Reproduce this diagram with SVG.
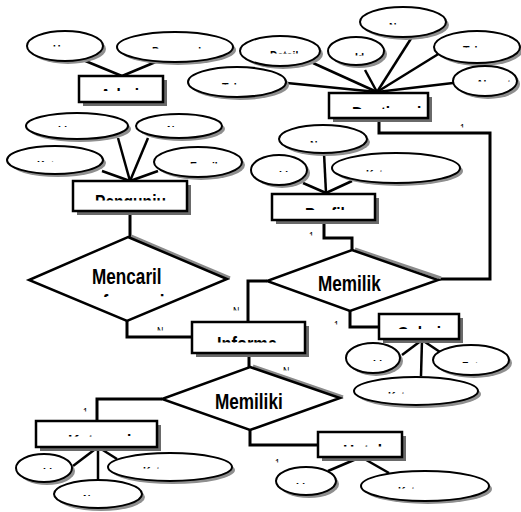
<svg xmlns="http://www.w3.org/2000/svg" width="521" height="512" viewBox="0 0 521 512">
<style>
.e{fill:#fff;stroke:#000;stroke-width:2}
.es{fill:#8f8f8f}
.r{fill:#fff;stroke:#000;stroke-width:2.5}
.rs{fill:#6a6a6a}
.d{fill:#fff;stroke:#000;stroke-width:2.5;stroke-linejoin:miter}
.ds{fill:none;stroke:#8a8a8a;stroke-width:3}
.c{fill:none;stroke:#000;stroke-width:3;stroke-linejoin:miter}
.a{fill:none;stroke:#000;stroke-width:2.5}
text{font-family:"Liberation Sans",Arial,sans-serif;font-weight:bold;fill:#000}
.s{font-size:13px}
.m{font-size:20px}
.l{font-size:22px}
.n{font-size:11px;font-weight:normal}
.k{clip-path:url(#vis)}
</style>
<defs>
<clipPath id="vis">
<rect x="27" y="40" width="76" height="6.5"/>
<rect x="117" y="42" width="116" height="6.5"/>
<rect x="360" y="18" width="87" height="6.5"/>
<rect x="241" y="46" width="79" height="7.5"/>
<rect x="328" y="48" width="56" height="7.5"/>
<rect x="433" y="41" width="88" height="6.5"/>
<rect x="453" y="75" width="68" height="6.5"/>
<rect x="188" y="78" width="99" height="6.5"/>
<rect x="26" y="121" width="102" height="6"/>
<rect x="136" y="121" width="87" height="6"/>
<rect x="7" y="156" width="96" height="6"/>
<rect x="154" y="157" width="88" height="6.5"/>
<rect x="279" y="136" width="88" height="6.5"/>
<rect x="251" y="166" width="56" height="6"/>
<rect x="332" y="165" width="128" height="6.5"/>
<rect x="346" y="355" width="55" height="6"/>
<rect x="433" y="357" width="76" height="6"/>
<rect x="354" y="387" width="125" height="6.5"/>
<rect x="16" y="463" width="56" height="6"/>
<rect x="108" y="462" width="124" height="6.5"/>
<rect x="54" y="490" width="88" height="6"/>
<rect x="276" y="478" width="60" height="6"/>
<rect x="361" y="482" width="129" height="6.5"/>
<rect x="79" y="85" width="84" height="6"/>
<rect x="329" y="103" width="99" height="6"/>
<rect x="73" y="190" width="114" height="10.5"/>
<rect x="272" y="204" width="103" height="6"/>
<rect x="379" y="323" width="80" height="6"/>
<rect x="192" y="333" width="113" height="9.5"/>
<rect x="36" y="431" width="121" height="5.5"/>
<rect x="318" y="441" width="84" height="5.5"/>
<rect x="29" y="255" width="198" height="42"/>
<rect x="458" y="120" width="12" height="7.5"/>
<rect x="307" y="228" width="12" height="7.5"/>
<rect x="155" y="323" width="12" height="7.5"/>
<rect x="231" y="303" width="12" height="7.5"/>
<rect x="332" y="317" width="12" height="7.5"/>
<rect x="281" y="363" width="12" height="7.5"/>
<rect x="81" y="404" width="12" height="7.5"/>
<rect x="273" y="455" width="12" height="7.5"/>
</clipPath>
</defs>

<g id="connectors">
<polyline class="c" points="379,118 379,133 490,133 490,279 438,279"/>
<polyline class="c" points="324,220 324,238 352,238 352,250"/>
<polyline class="c" points="267,281 248,281 248,322"/>
<polyline class="c" points="350,311 350,327 379,327"/>
<polyline class="c" points="130,211 130,237"/>
<polyline class="c" points="127,321 127,337 192,337"/>
<polyline class="c" points="249,353 249,367"/>
<polyline class="c" points="162,399 97,399 97,421"/>
<polyline class="c" points="250,430 250,445 318,445"/>
<line class="a" x1="83" y1="60" x2="122" y2="76"/>
<line class="a" x1="158" y1="61" x2="122" y2="76"/>
<line class="a" x1="287" y1="83" x2="377" y2="92"/>
<line class="a" x1="313" y1="63" x2="377" y2="92"/>
<line class="a" x1="365" y1="70" x2="377" y2="92"/>
<line class="a" x1="412" y1="37" x2="377" y2="92"/>
<line class="a" x1="440" y1="53" x2="377" y2="92"/>
<line class="a" x1="453" y1="83" x2="377" y2="92"/>
<line class="a" x1="118" y1="138" x2="130" y2="181"/>
<line class="a" x1="148" y1="138" x2="130" y2="181"/>
<line class="a" x1="102" y1="171" x2="130" y2="181"/>
<line class="a" x1="158" y1="171" x2="130" y2="181"/>
<line class="a" x1="303" y1="183" x2="326" y2="193"/>
<line class="a" x1="324" y1="153" x2="326" y2="193"/>
<line class="a" x1="352" y1="181" x2="326" y2="193"/>
<line class="a" x1="402" y1="355" x2="422" y2="340"/>
<line class="a" x1="440" y1="352" x2="422" y2="340"/>
<line class="a" x1="421" y1="376" x2="422" y2="340"/>
<line class="a" x1="73" y1="466" x2="98" y2="447"/>
<line class="a" x1="98" y1="479" x2="98" y2="447"/>
<line class="a" x1="117" y1="459" x2="98" y2="447"/>
<line class="a" x1="328" y1="471" x2="361" y2="457"/>
<line class="a" x1="389" y1="473" x2="361" y2="457"/>
<text class="n k" x="460" y="131.9" textLength="4.9" lengthAdjust="spacingAndGlyphs">1</text>
<text class="n k" x="309" y="239.9" textLength="4.9" lengthAdjust="spacingAndGlyphs">1</text>
<text class="n k" x="157" y="334.9" textLength="6.4" lengthAdjust="spacingAndGlyphs">N</text>
<text class="n k" x="233" y="314.9" textLength="6.4" lengthAdjust="spacingAndGlyphs">N</text>
<text class="n k" x="334" y="328.9" textLength="4.9" lengthAdjust="spacingAndGlyphs">1</text>
<text class="n k" x="283" y="374.9" textLength="6.4" lengthAdjust="spacingAndGlyphs">N</text>
<text class="n k" x="83" y="415.9" textLength="4.9" lengthAdjust="spacingAndGlyphs">1</text>
<text class="n k" x="275" y="466.9" textLength="4.9" lengthAdjust="spacingAndGlyphs">1</text>
</g>

<g id="admin">
<rect class="rs" x="83" y="80" width="84" height="26"/>
<rect class="r" x="79" y="76" width="84" height="26"/>
<text class="m k" x="100" y="103.3" textLength="48.5" lengthAdjust="spacingAndGlyphs">Admin</text>
</g>
<g id="admin-username">
<ellipse class="es" cx="68" cy="49" rx="38" ry="15"/>
<ellipse class="e" cx="65" cy="46" rx="38" ry="15"/>
<text class="s k" x="53" y="54.3" textLength="50.3" lengthAdjust="spacingAndGlyphs">Username</text>
</g>
<g id="admin-password">
<ellipse class="es" cx="178" cy="50" rx="58" ry="15"/>
<ellipse class="e" cx="175" cy="47" rx="58" ry="15"/>
<text class="s k" x="152" y="56.3" textLength="49.1" lengthAdjust="spacingAndGlyphs">Password</text>
</g>

<g id="destinasi">
<rect class="rs" x="333" y="97" width="99" height="25"/>
<rect class="r" x="329" y="93" width="99" height="25"/>
<text class="m k" x="352" y="121.3" textLength="69.4" lengthAdjust="spacingAndGlyphs">Destinasi</text>
</g>
<g id="destinasi-nama">
<ellipse class="es" cx="406" cy="25" rx="43" ry="15"/>
<ellipse class="e" cx="403" cy="22" rx="43" ry="15"/>
<text class="s k" x="389" y="32.3" textLength="28.3" lengthAdjust="spacingAndGlyphs">Nama</text>
</g>
<g id="destinasi-detail">
<ellipse class="es" cx="283" cy="54" rx="40" ry="15"/>
<ellipse class="e" cx="280" cy="51" rx="40" ry="15"/>
<text class="s k" x="270" y="60.3" textLength="28.3" lengthAdjust="spacingAndGlyphs">Detail</text>
</g>
<g id="destinasi-id">
<ellipse class="es" cx="359" cy="54" rx="28" ry="14"/>
<ellipse class="e" cx="356" cy="51" rx="28" ry="14"/>
<text class="s k" x="355" y="62.3" textLength="9.2" lengthAdjust="spacingAndGlyphs">Id</text>
</g>
<g id="destinasi-telepon">
<ellipse class="es" cx="480" cy="50" rx="43" ry="16"/>
<ellipse class="e" cx="477" cy="47" rx="43" ry="16"/>
<text class="s k" x="463" y="55.3" textLength="39.9" lengthAdjust="spacingAndGlyphs">Telepon</text>
</g>
<g id="destinasi-alamat">
<ellipse class="es" cx="488" cy="84" rx="32" ry="15"/>
<ellipse class="e" cx="485" cy="81" rx="32" ry="15"/>
<text class="s k" x="476" y="89.3" textLength="34.7" lengthAdjust="spacingAndGlyphs">Alamat</text>
</g>
<g id="destinasi-tahun">
<ellipse class="es" cx="240" cy="85" rx="49" ry="15"/>
<ellipse class="e" cx="237" cy="82" rx="49" ry="15"/>
<text class="s k" x="222" y="92.3" textLength="31.2" lengthAdjust="spacingAndGlyphs">Tahun</text>
</g>

<g id="pengunjung">
<rect class="rs" x="77" y="185" width="114" height="30"/>
<rect class="r" x="73" y="181" width="114" height="30"/>
<text class="m k" x="95" y="209.3" textLength="71" lengthAdjust="spacingAndGlyphs">Pengunju</text>
</g>
<g id="pengunjung-id">
<ellipse class="es" cx="80" cy="129" rx="51" ry="13"/>
<ellipse class="e" cx="77" cy="126" rx="51" ry="13"/>
<text class="s k" x="58" y="135.3" textLength="9.2" lengthAdjust="spacingAndGlyphs">Id</text>
</g>
<g id="pengunjung-nama">
<ellipse class="es" cx="182" cy="129" rx="43" ry="12"/>
<ellipse class="e" cx="179" cy="126" rx="43" ry="12"/>
<text class="s k" x="167" y="135.3" textLength="28.3" lengthAdjust="spacingAndGlyphs">Nama</text>
</g>
<g id="pengunjung-kota">
<ellipse class="es" cx="58" cy="163" rx="48" ry="14"/>
<ellipse class="e" cx="55" cy="160" rx="48" ry="14"/>
<text class="s k" x="37" y="170.3" textLength="23.1" lengthAdjust="spacingAndGlyphs">Kota</text>
</g>
<g id="pengunjung-email">
<ellipse class="es" cx="201" cy="165" rx="44" ry="15"/>
<ellipse class="e" cx="198" cy="162" rx="44" ry="15"/>
<text class="s k" x="190" y="171.3" textLength="27.7" lengthAdjust="spacingAndGlyphs">Email</text>
</g>

<g id="profil">
<rect class="rs" x="276" y="198" width="103" height="26"/>
<rect class="r" x="272" y="194" width="103" height="26"/>
<text class="m k" x="305" y="222.3" textLength="39.9" lengthAdjust="spacingAndGlyphs">Profil</text>
</g>
<g id="profil-nama">
<ellipse class="es" cx="326" cy="142" rx="44" ry="14"/>
<ellipse class="e" cx="323" cy="139" rx="44" ry="14"/>
<text class="s k" x="310" y="150.3" textLength="28.3" lengthAdjust="spacingAndGlyphs">Nama</text>
</g>
<g id="profil-id">
<ellipse class="es" cx="282" cy="173" rx="28" ry="15"/>
<ellipse class="e" cx="279" cy="170" rx="28" ry="15"/>
<text class="s k" x="279" y="180.3" textLength="9.2" lengthAdjust="spacingAndGlyphs">Id</text>
</g>
<g id="profil-keterangan">
<ellipse class="es" cx="399" cy="171" rx="64" ry="15"/>
<ellipse class="e" cx="396" cy="168" rx="64" ry="15"/>
<text class="s k" x="366" y="179.3" textLength="57.2" lengthAdjust="spacingAndGlyphs">Keterangan</text>
</g>

<g id="mencari-informasi">
<polyline class="ds" points="131,236 230,278"/>
<polygon class="d" points="128,237 227,279 127,321 29,280"/>
<text class="l k" x="92" y="284" textLength="69.6" lengthAdjust="spacingAndGlyphs">Mencaril</text>
<text class="l k" x="92" y="310" textLength="72.5" lengthAdjust="spacingAndGlyphs">nformasi</text>
</g>

<g id="memiliki-1">
<polyline class="ds" points="355,249 441,278"/>
<polygon class="d" points="352,250 438,280 350,311 267,281"/>
<text class="l" x="318" y="291" textLength="62.9" lengthAdjust="spacingAndGlyphs">Memilik</text>
</g>

<g id="galeri">
<rect class="rs" x="383" y="318" width="80" height="25"/>
<rect class="r" x="379" y="314" width="80" height="25"/>
<text class="m k" x="397" y="341.3" textLength="44" lengthAdjust="spacingAndGlyphs">Galeri</text>
</g>
<g id="galeri-id">
<ellipse class="es" cx="376" cy="361" rx="27" ry="15"/>
<ellipse class="e" cx="373" cy="358" rx="27" ry="15"/>
<text class="s k" x="373" y="369.3" textLength="9.2" lengthAdjust="spacingAndGlyphs">Id</text>
</g>
<g id="galeri-foto">
<ellipse class="es" cx="474" cy="363" rx="38" ry="15"/>
<ellipse class="e" cx="471" cy="360" rx="38" ry="15"/>
<text class="s k" x="462" y="371.3" textLength="22.5" lengthAdjust="spacingAndGlyphs">Foto</text>
</g>
<g id="galeri-keterangan">
<ellipse class="es" cx="419" cy="394" rx="62" ry="14"/>
<ellipse class="e" cx="416" cy="391" rx="62" ry="14"/>
<text class="s k" x="388" y="401.3" textLength="57.2" lengthAdjust="spacingAndGlyphs">Keterangan</text>
</g>

<g id="informasi">
<rect class="rs" x="196" y="326" width="113" height="31"/>
<rect class="r" x="192" y="322" width="113" height="31"/>
<text class="m k" x="217" y="351.3" textLength="60" lengthAdjust="spacingAndGlyphs">Informa</text>
</g>

<g id="memiliki-2">
<polyline class="ds" points="253,366 343,397"/>
<polygon class="d" points="250,367 340,398 250,430 162,399"/>
<text class="l" x="215" y="409" textLength="67.7" lengthAdjust="spacingAndGlyphs">Memiliki</text>
</g>

<g id="kategori">
<rect class="rs" x="40" y="425" width="121" height="26"/>
<rect class="r" x="36" y="421" width="121" height="26"/>
<text class="m k" x="68" y="449.3" textLength="63.3" lengthAdjust="spacingAndGlyphs">Kategori</text>
</g>
<g id="kategori-id">
<ellipse class="es" cx="47" cy="471" rx="28" ry="14"/>
<ellipse class="e" cx="44" cy="468" rx="28" ry="14"/>
<text class="s k" x="43" y="477.3" textLength="9.2" lengthAdjust="spacingAndGlyphs">Id</text>
</g>
<g id="kategori-keterangan">
<ellipse class="es" cx="173" cy="470" rx="62" ry="14"/>
<ellipse class="e" cx="170" cy="467" rx="62" ry="14"/>
<text class="s k" x="143" y="476.3" textLength="57.2" lengthAdjust="spacingAndGlyphs">Keterangan</text>
</g>
<g id="kategori-nama">
<ellipse class="es" cx="101" cy="497" rx="44" ry="14"/>
<ellipse class="e" cx="98" cy="494" rx="44" ry="14"/>
<text class="s k" x="83" y="504.3" textLength="28.3" lengthAdjust="spacingAndGlyphs">Nama</text>
</g>

<g id="hotel">
<rect class="rs" x="322" y="436" width="84" height="25"/>
<rect class="r" x="318" y="432" width="84" height="25"/>
<text class="m k" x="343" y="459.3" textLength="39" lengthAdjust="spacingAndGlyphs">Hotel</text>
</g>
<g id="hotel-id">
<ellipse class="es" cx="309" cy="484" rx="30" ry="14"/>
<ellipse class="e" cx="306" cy="481" rx="30" ry="14"/>
<text class="s k" x="296" y="492.3" textLength="9.2" lengthAdjust="spacingAndGlyphs">Id</text>
</g>
<g id="hotel-keterangan">
<ellipse class="es" cx="428" cy="489" rx="64" ry="15"/>
<ellipse class="e" cx="425" cy="486" rx="64" ry="15"/>
<text class="s k" x="398" y="496.3" textLength="57.2" lengthAdjust="spacingAndGlyphs">Keterangan</text>
</g>
</svg>
